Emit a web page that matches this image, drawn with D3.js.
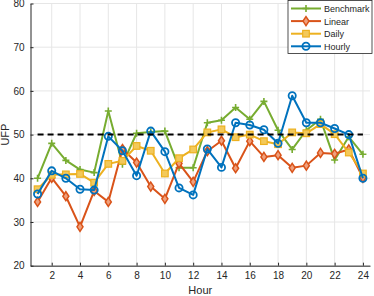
<!DOCTYPE html>
<html>
<head>
<meta charset="utf-8">
<script src="https://cdn.jsdelivr.net/npm/d3@7"></script>
<style>
body { margin: 0; background: #fff; }
text { font-family: "Liberation Sans", Arial, sans-serif; }
</style>
</head>
<body>
<script>
// data ______________________________________________________________
var hours = d3.range(1, 25);
var benchmark = [40, 48, 44.1, 42, 41.3, 55.4, 43.2, 50.3, 50.6, 50.8, 42.4, 42.4,
                 52.7, 53.3, 56.2, 53.5, 57.6, 51, 46.6, 51, 53.5, 44.2, 49.5, 45.5];
var linear = [34.6, 40.1, 35.9, 28.9, 37.1, 34.6, 46.7, 43.6, 38.1, 35.3, 43.4, 39.2,
              46.2, 48.6, 42.3, 48.5, 44.9, 45.3, 42.4, 42.9, 45.8, 45.6, 46.6, 40.1];
var daily = [37.5, 40.8, 40.9, 41, 39, 43.3, 44, 47.4, 46.3, 41.1, 44.6, 46.6,
             50.5, 51.2, 49.4, 50, 48.5, 47.8, 50.5, 50.3, 52.4, 50.1, 45.9, 41.1];
var hourly = [36.4, 41.7, 40, 37.5, 37.3, 49.6, 46.3, 40.6, 50.8, 46.1, 37.8, 36.2,
              46.7, 42.5, 52.7, 52.2, 51.1, 48, 58.9, 52.7, 52.7, 51.4, 50, 40];
var threshold = 50;
var xTicks = [2, 4, 6, 8, 10, 12, 14, 16, 18, 20, 22, 24];
var yTicks = [20, 30, 40, 50, 60, 70, 80];

var series = [
  {name: "Benchmark", values: benchmark, color: "#77AC30", marker: "plus"},
  {name: "Linear", values: linear, color: "#D95319", marker: "diamond"},
  {name: "Daily", values: daily, color: "#EDB120", marker: "square"},
  {name: "Hourly", values: hourly, color: "#0072BD", marker: "circle"}
];

// layout ____________________________________________________________
var W = 374, H = 296;
var margin = {top: 3.5, right: 4, bottom: 30.3, left: 30.5};
var width = W - margin.left - margin.right;
var height = H - margin.top - margin.bottom;

var svg = d3.select("body").append("svg")
    .attr("width", W)
    .attr("height", H);

var g = svg.append("g")
    .attr("transform", "translate(" + margin.left + "," + margin.top + ")");

var x = d3.scaleLinear().domain([0.5, 24.5]).range([0, width]);
var y = d3.scaleLinear().domain([20, 80]).range([height, 0]);

// grid
g.append("g").selectAll("line").data(xTicks).enter().append("line")
    .attr("x1", d => x(d)).attr("x2", d => x(d))
    .attr("y1", 0).attr("y2", height)
    .attr("stroke", "#e6e6e6").attr("stroke-width", 1);
g.append("g").selectAll("line").data(yTicks).enter().append("line")
    .attr("x1", 0).attr("x2", width)
    .attr("y1", d => y(d)).attr("y2", d => y(d))
    .attr("stroke", "#e6e6e6").attr("stroke-width", 1);

// axes
var bottomAxis = d3.axisBottom(x).tickValues(xTicks).tickSizeInner(-3).tickSizeOuter(0).tickPadding(6);
var leftAxis = d3.axisLeft(y).tickValues(yTicks).tickSizeInner(-3).tickSizeOuter(0).tickPadding(6);

var gx = g.append("g")
    .attr("transform", "translate(0," + height + ")")
    .call(bottomAxis);
var gy = g.append("g").call(leftAxis);

[gx, gy].forEach(a => {
  a.select(".domain").attr("stroke", "#262626");
  a.selectAll(".tick line").attr("stroke", "#262626");
  a.selectAll("text").attr("fill", "#262626").attr("font-size", "10px")
    .style("font-family", "Liberation Sans, Arial, sans-serif");
});

// labels
g.append("text")
    .attr("x", width / 2)
    .attr("y", height + 28)
    .attr("text-anchor", "middle")
    .attr("font-size", "11px")
    .attr("fill", "#262626")
    .text("Hour");

g.append("text")
    .attr("transform", "rotate(-90)")
    .attr("x", -height / 2)
    .attr("y", -22)
    .attr("text-anchor", "middle")
    .attr("font-size", "11px")
    .attr("fill", "#262626")
    .text("UFP");

// lines
var line = d3.line().x((d, i) => x(hours[i])).y(d => y(d));

function drawMarker(sel, s, cx, cy) {
  if (s.marker === "plus") {
    sel.append("path")
      .attr("d", "M" + (cx - 3.5) + "," + cy + "h7M" + cx + "," + (cy - 3.5) + "v7")
      .attr("stroke", s.color).attr("stroke-width", 1.6).attr("fill", "none");
  } else if (s.marker === "diamond") {
    sel.append("path")
      .attr("d", "M" + cx + "," + (cy - 4.5) + "L" + (cx + 3) + "," + cy + "L" + cx + "," + (cy + 4.5) + "L" + (cx - 3) + "," + cy + "Z")
      .attr("stroke", s.color).attr("stroke-width", 1.5).attr("fill", "#f0a07c");
  } else if (s.marker === "square") {
    sel.append("rect")
      .attr("x", cx - 3.3).attr("y", cy - 3.3).attr("width", 6.6).attr("height", 6.6)
      .attr("stroke", s.color).attr("stroke-width", 1.2).attr("fill", "#f3c95a");
  } else {
    sel.append("circle")
      .attr("cx", cx).attr("cy", cy).attr("r", 3.6)
      .attr("stroke", s.color).attr("stroke-width", 1.8).attr("fill", "none");
  }
}

series.forEach(s => {
  var sg = g.append("g");
  sg.append("path")
    .datum(s.values)
    .attr("d", line)
    .attr("fill", "none")
    .attr("stroke", s.color)
    .attr("stroke-width", 2)
    .attr("stroke-linejoin", "round");
  s.values.forEach((v, i) => drawMarker(sg, s, x(hours[i]), y(v)));
});

// threshold line
g.append("line")
    .attr("x1", x(1)).attr("x2", x(24))
    .attr("y1", y(threshold)).attr("y2", y(threshold))
    .attr("stroke", "#000").attr("stroke-width", 2)
    .attr("stroke-dasharray", "6,4");

// legend
var lg = svg.append("g").attr("transform", "translate(288,0.5)");
lg.append("rect")
    .attr("width", 84).attr("height", 53)
    .attr("fill", "#fff").attr("stroke", "#262626").attr("stroke-width", 0.8);
series.forEach((s, i) => {
  var yy = 8 + i * 12.6;
  var it = lg.append("g");
  it.append("line")
    .attr("x1", 3).attr("x2", 33).attr("y1", yy).attr("y2", yy)
    .attr("stroke", s.color).attr("stroke-width", 2);
  drawMarker(it, s, 18, yy);
  it.append("text")
    .attr("x", 36).attr("y", yy + 3.5)
    .attr("font-size", "9px")
    .attr("fill", "#262626")
    .text(s.name);
});
</script>
</body>
</html>
